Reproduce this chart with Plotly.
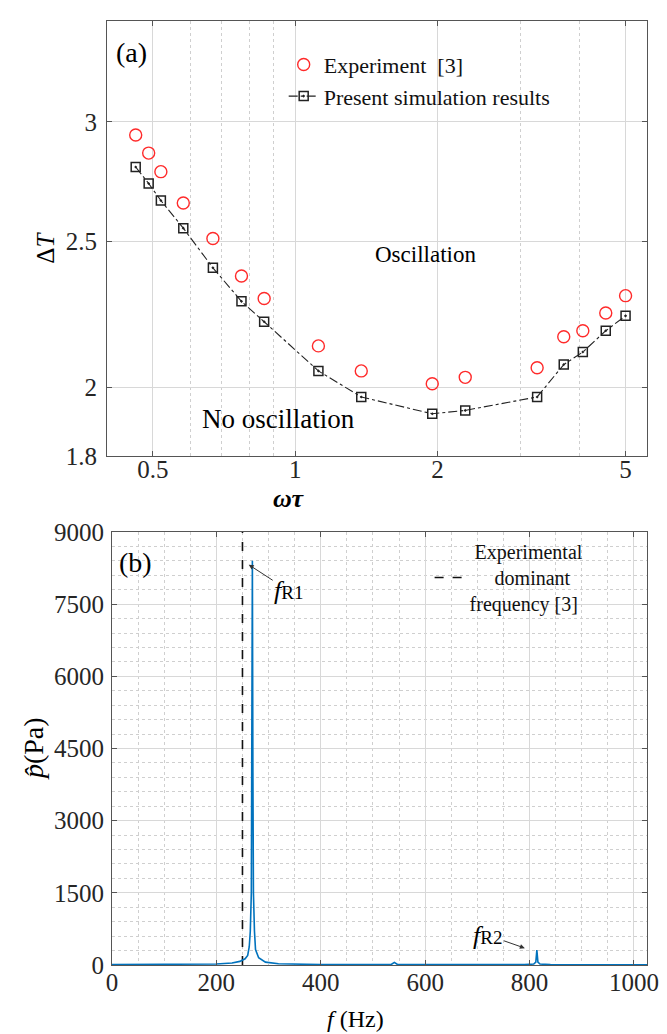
import math
import plotly.graph_objects as go

# ---------------- Panel (a) data ----------------
omega_tau = [0.46, 0.49, 0.52, 0.58, 0.67, 0.77, 0.86, 1.12, 1.38, 1.95, 2.29, 3.25, 3.70, 4.06, 4.54, 5.00]
dT_experiment = [2.94, 2.86, 2.78, 2.65, 2.51, 2.37, 2.29, 2.13, 2.05, 2.01, 2.03, 2.06, 2.16, 2.18, 2.24, 2.30]
dT_simulation = [2.80, 2.73, 2.66, 2.55, 2.40, 2.28, 2.21, 2.05, 1.97, 1.92, 1.93, 1.97, 2.07, 2.11, 2.18, 2.23]

a_xticks = [0.5, 1, 2, 5]
a_xminor = [0.6, 0.7, 0.8, 0.9, 3, 4]
a_yticks = [1.8, 2, 2.5, 3]
a_xrange = [0.4, 5.55]
a_yrange = [1.8, 3.5]

# ---------------- Panel (b) data ----------------
freq_hz = [0, 50, 100, 150, 200, 230, 245, 255, 260, 263, 265, 267, 268, 269, 270, 271, 273, 275,
           281, 294, 319, 350, 400, 500, 535, 541, 547, 600, 700, 790, 808, 812, 814, 816, 820,
           840, 900, 1000, 1025]
p_hat_pa = [8, 8, 10, 14, 22, 40, 75, 130, 200, 380, 700, 1500, 4000, 8400, 4000, 1500, 700, 320,
            150, 60, 25, 15, 10, 8, 10, 55, 10, 8, 6, 8, 20, 60, 310, 60, 20,
            8, 6, 5, 5]
exp_dominant_freq = 250
b_xticks = [0, 200, 400, 600, 800, 1000]
b_yticks = [0, 1500, 3000, 4500, 6000, 7500, 9000]
b_xrange = [0, 1025]
b_yrange = [0, 9000]

FONT = "Liberation Serif"
TICKC = "#262626"
AXC = "#555555"
GRID = "#d8d8d8"
MGRID = "#cfcfcf"

fig = go.Figure()

fig.add_trace(go.Scatter(
    x=omega_tau, y=dT_experiment, mode="markers", name="Experiment  [3]",
    marker=dict(symbol="circle-open", size=12, color="#ff2a2a", line=dict(width=1.4)),
    xaxis="x", yaxis="y", legend="legend"))
fig.add_trace(go.Scatter(
    x=omega_tau, y=dT_simulation, mode="lines+markers", name="Present simulation results",
    line=dict(color="#222222", width=1.1, dash="dashdot"),
    marker=dict(symbol="square-open-dot", size=9, color="#222222", line=dict(width=1.5)),
    xaxis="x", yaxis="y", legend="legend"))

fig.add_trace(go.Scatter(
    x=[exp_dominant_freq, exp_dominant_freq], y=b_yrange, mode="lines",
    name="\u00a0Experimental<br>\u00a0\u00a0\u00a0\u00a0\u00a0dominant<br>frequency [3]",
    line=dict(color="#111111", width=1.6, dash="dash"),
    xaxis="x2", yaxis="y2", legend="legend2"))
fig.add_trace(go.Scatter(
    x=freq_hz, y=p_hat_pa, mode="lines", showlegend=False,
    line=dict(color="#0072BD", width=1.6),
    xaxis="x2", yaxis="y2"))

common = dict(showline=True, linecolor=AXC, linewidth=1, mirror="allticks",
              ticks="inside", ticklen=5, tickcolor=AXC, zeroline=False,
              showgrid=True, gridcolor=GRID, gridwidth=1,
              tickfont=dict(family=FONT, size=25, color=TICKC))

fig.update_layout(
    width=667, height=1034,
    margin=dict(l=107, r=16, t=8, b=69),
    paper_bgcolor="white", plot_bgcolor="white",
    font=dict(family=FONT, size=22, color="#000000"),
    xaxis=dict(type="log", domain=[0, 1], anchor="y",
               range=[math.log10(a_xrange[0]), math.log10(a_xrange[1])],
               tickmode="array", tickvals=a_xticks, ticklabelstandoff=-9,
               minor=dict(tickmode="array", tickvals=a_xminor, showgrid=True,
                          gridcolor=MGRID, griddash="dot", ticks=""),
               **common),
    yaxis=dict(type="log", domain=[0.5392, 1], anchor="x",
               range=[math.log10(a_yrange[0]), math.log10(a_yrange[1])],
               tickmode="array", tickvals=a_yticks, ticklabelstandoff=4,
               **common),
    xaxis2=dict(domain=[0.0092, 1], anchor="y2", range=b_xrange,
                tickmode="array", tickvals=b_xticks, ticklabelstandoff=-5,
                minor=dict(dtick=50, tick0=0, showgrid=True, gridcolor=MGRID,
                           griddash="dot", ticks=""),
                **common),
    yaxis2=dict(domain=[0, 0.4587], anchor="x2", range=b_yrange,
                tickmode="array", tickvals=b_yticks, ticklabelstandoff=2,
                minor=dict(dtick=300, tick0=0, showgrid=True, gridcolor=MGRID,
                           griddash="dot", ticks=""),
                **common),
    legend=dict(x=(285 - 107) / 544, y=(965 - 31) / 957, xanchor="left", yanchor="top",
                bgcolor="rgba(0,0,0,0)", font=dict(family=FONT, size=22, color="#111"),
                tracegroupgap=0, itemwidth=30),
    legend2=dict(x=(432 - 107) / 544, y=(965 - 526) / 957, xanchor="left", yanchor="top",
                 bgcolor="rgba(0,0,0,0)", font=dict(family=FONT, size=20, color="#111"),
                 itemwidth=30, valign="middle"),
    showlegend=True,
)

ann = [
    dict(text="(a)", x=0.046, y=0.927, xref="x domain", yref="y domain", size=28),
    dict(text="Oscillation", x=0.590, y=0.4626, xref="x domain", yref="y domain", size=23),
    dict(text="No oscillation", x=0.318, y=0.086, xref="x domain", yref="y domain", size=27),
    dict(text="\u0394<i>T</i>", x=-0.114, y=0.48, xref="x domain", yref="y domain", size=25, angle=-90),
    dict(text="<b><i>\u03c9\u03c4</i></b>", x=0.336, y=-0.0975, xref="x domain", yref="y domain", size=26),
    dict(text="(b)", x=0.0445, y=0.929, xref="x2 domain", yref="y2 domain", size=28),
    dict(text="<i>p\u0302</i>(Pa)", x=-0.1466, y=0.5, xref="x2 domain", yref="y2 domain", size=28, angle=-90),
    dict(text="<i>f</i> (Hz)", x=0.4545, y=-0.125, xref="x2 domain", yref="y2 domain", size=24),
]
for a in ann:
    fig.add_annotation(text=a["text"], x=a["x"], y=a["y"], xref=a["xref"], yref=a["yref"],
                       showarrow=False, textangle=a.get("angle", 0),
                       font=dict(family=FONT, size=a["size"], color="#000000"),
                       xanchor="center", yanchor="middle")

fig.add_annotation(text="<i>f</i><span style='font-size:19px'>R1</span>", x=262, y=8320,
                   xref="x2", yref="y2", showarrow=True, ax=40, ay=26,
                   arrowhead=2, arrowsize=1, arrowwidth=1, arrowcolor="#333333",
                   font=dict(family=FONT, size=26, color="#000000"))
fig.add_annotation(text="<i>f</i><span style='font-size:19px'>R2</span>", x=791, y=350,
                   xref="x2", yref="y2", showarrow=True, ax=-37, ay=-13,
                   arrowhead=2, arrowsize=1, arrowwidth=1, arrowcolor="#333333",
                   font=dict(family=FONT, size=26, color="#000000"))

fig.write_html("out.html")
